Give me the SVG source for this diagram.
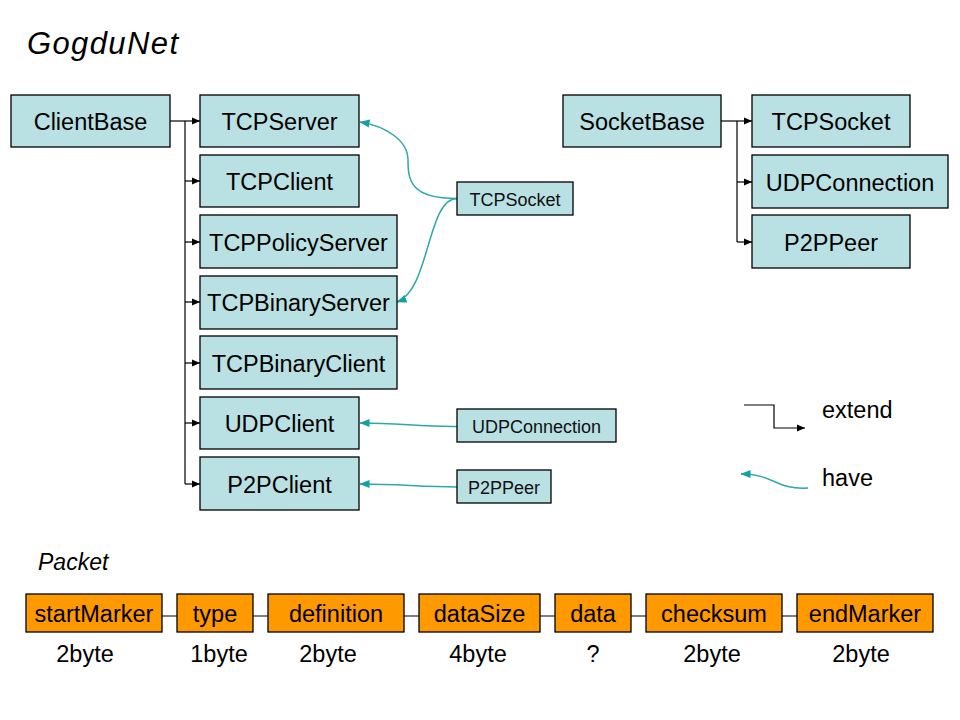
<svg xmlns="http://www.w3.org/2000/svg" width="960" height="720" viewBox="0 0 960 720">
<style>
.b{fill:#B9E0E3;stroke:#000;stroke-width:1.3}
.o{fill:#FF9900;stroke:#000;stroke-width:1.3}
.t{font-family:"Liberation Sans",Arial,sans-serif;font-size:23.5px;fill:#000;text-anchor:middle}
.s{font-family:"Liberation Sans",Arial,sans-serif;font-size:18px;fill:#111;text-anchor:middle}
.ext{fill:none;stroke:#000;stroke-width:1.2}
.hav{fill:none;stroke:#2EA8A8;stroke-width:1.5}
</style>
<defs>
<marker id="ab" markerUnits="userSpaceOnUse" markerWidth="9" markerHeight="8" refX="8" refY="4" orient="auto"><path d="M0,0.5 L8,4 L0,7.5 z" fill="#000"/></marker>
<marker id="at" markerUnits="userSpaceOnUse" markerWidth="11" markerHeight="10" refX="9.5" refY="5" orient="auto"><path d="M0,1 L10,5 L0,9 z" fill="#12A0A0"/></marker>
</defs>
<rect width="960" height="720" fill="#fff"/>
<text x="27" y="54" font-family="'Liberation Sans',Arial,sans-serif" font-style="italic" font-size="31" textLength="151">GogduNet</text>

<g id="connectors">
<path class="ext" d="M170,121 H200" marker-end="url(#ab)"/>
<path class="ext" d="M185,121 V484"/>
<path class="ext" d="M185,181 H200" marker-end="url(#ab)"/>
<path class="ext" d="M185,242 H200" marker-end="url(#ab)"/>
<path class="ext" d="M185,302 H200" marker-end="url(#ab)"/>
<path class="ext" d="M185,363 H200" marker-end="url(#ab)"/>
<path class="ext" d="M185,423 H200" marker-end="url(#ab)"/>
<path class="ext" d="M185,484 H200" marker-end="url(#ab)"/>
<path class="ext" d="M721,121 H752" marker-end="url(#ab)"/>
<path class="ext" d="M737,121 V242"/>
<path class="ext" d="M737,182 H752" marker-end="url(#ab)"/>
<path class="ext" d="M737,242 H752" marker-end="url(#ab)"/>
<path class="hav" d="M457,198.5 C410,198.5 408,180 408,160 C408,140 385,126 360,122" marker-end="url(#at)"/>
<path class="hav" d="M457,198.5 C427,198.5 430,290 397,302" marker-end="url(#at)"/>
<path class="hav" d="M457,426.5 C420,427 400,423 360,423" marker-end="url(#at)"/>
<path class="hav" d="M457,487 C420,487 400,484 360,484" marker-end="url(#at)"/>
<path class="ext" d="M744,405 H774 V428 H805" marker-end="url(#ab)"/>
<path class="hav" d="M808,488 C775,490 775,474 741,474" marker-end="url(#at)"/>
<path class="ext" d="M162,616 H177 M253,616 H268 M404,616 H419 M540,616 H555 M631,616 H646 M782,616 H797"/>
</g>

<g id="ClientBase"><rect class="b" x="11" y="95" width="159" height="52"/><text class="t" x="90.5" y="130">ClientBase</text></g>
<g id="TCPServer"><rect class="b" x="200" y="95" width="159" height="52"/><text class="t" x="279.5" y="130">TCPServer</text></g>
<g id="TCPClient"><rect class="b" x="200" y="155" width="159" height="52"/><text class="t" x="279.5" y="190">TCPClient</text></g>
<g id="TCPPolicyServer"><rect class="b" x="200" y="215" width="197" height="53"/><text class="t" x="298.5" y="250.5">TCPPolicyServer</text></g>
<g id="TCPBinaryServer"><rect class="b" x="200" y="276" width="197" height="53"/><text class="t" x="298.5" y="311">TCPBinaryServer</text></g>
<g id="TCPBinaryClient"><rect class="b" x="200" y="336" width="197" height="53"/><text class="t" x="298.5" y="371.5">TCPBinaryClient</text></g>
<g id="UDPClient"><rect class="b" x="200" y="397" width="159" height="52"/><text class="t" x="279.5" y="432">UDPClient</text></g>
<g id="P2PClient"><rect class="b" x="200" y="457" width="159" height="53"/><text class="t" x="279.5" y="492.5">P2PClient</text></g>

<g id="SocketBase"><rect class="b" x="563" y="95" width="158" height="52"/><text class="t" x="642" y="130">SocketBase</text></g>
<g id="TCPSocket"><rect class="b" x="752" y="95" width="158" height="52"/><text class="t" x="831" y="130">TCPSocket</text></g>
<g id="UDPConnection"><rect class="b" x="752" y="155" width="196" height="53"/><text class="t" x="850" y="190.5">UDPConnection</text></g>
<g id="P2PPeer"><rect class="b" x="752" y="215" width="158" height="53"/><text class="t" x="831" y="250.5">P2PPeer</text></g>

<g id="TCPSocketRef"><rect class="b" x="457" y="182" width="116" height="33"/><text class="s" x="515" y="206">TCPSocket</text></g>
<g id="UDPConnectionRef"><rect class="b" x="457" y="409" width="159" height="33"/><text class="s" x="536.5" y="433">UDPConnection</text></g>
<g id="P2PPeerRef"><rect class="b" x="457" y="470" width="94" height="33"/><text class="s" x="504" y="494">P2PPeer</text></g>

<g id="legend">
<text x="822" y="418" font-family="'Liberation Sans',Arial,sans-serif" font-size="23.5">extend</text>
<text x="822" y="486" font-family="'Liberation Sans',Arial,sans-serif" font-size="23.5">have</text>
</g>

<text x="38" y="570" font-family="'Liberation Sans',Arial,sans-serif" font-style="italic" font-size="23">Packet</text>

<g id="startMarker"><rect class="o" x="26" y="594" width="136" height="38"/><text class="t" x="94" y="622">startMarker</text><text class="t" x="85" y="662">2byte</text></g>
<g id="type"><rect class="o" x="177" y="594" width="76" height="38"/><text class="t" x="215" y="622">type</text><text class="t" x="219" y="662">1byte</text></g>
<g id="definition"><rect class="o" x="268" y="594" width="136" height="38"/><text class="t" x="336" y="622">definition</text><text class="t" x="328" y="662">2byte</text></g>
<g id="dataSize"><rect class="o" x="419" y="594" width="121" height="38"/><text class="t" x="479.5" y="622">dataSize</text><text class="t" x="478" y="662">4byte</text></g>
<g id="data"><rect class="o" x="555" y="594" width="76" height="38"/><text class="t" x="593" y="622">data</text><text class="t" x="593" y="662">?</text></g>
<g id="checksum"><rect class="o" x="646" y="594" width="136" height="38"/><text class="t" x="714" y="622">checksum</text><text class="t" x="712" y="662">2byte</text></g>
<g id="endMarker"><rect class="o" x="797" y="594" width="136" height="38"/><text class="t" x="865" y="622">endMarker</text><text class="t" x="861" y="662">2byte</text></g>
</svg>
